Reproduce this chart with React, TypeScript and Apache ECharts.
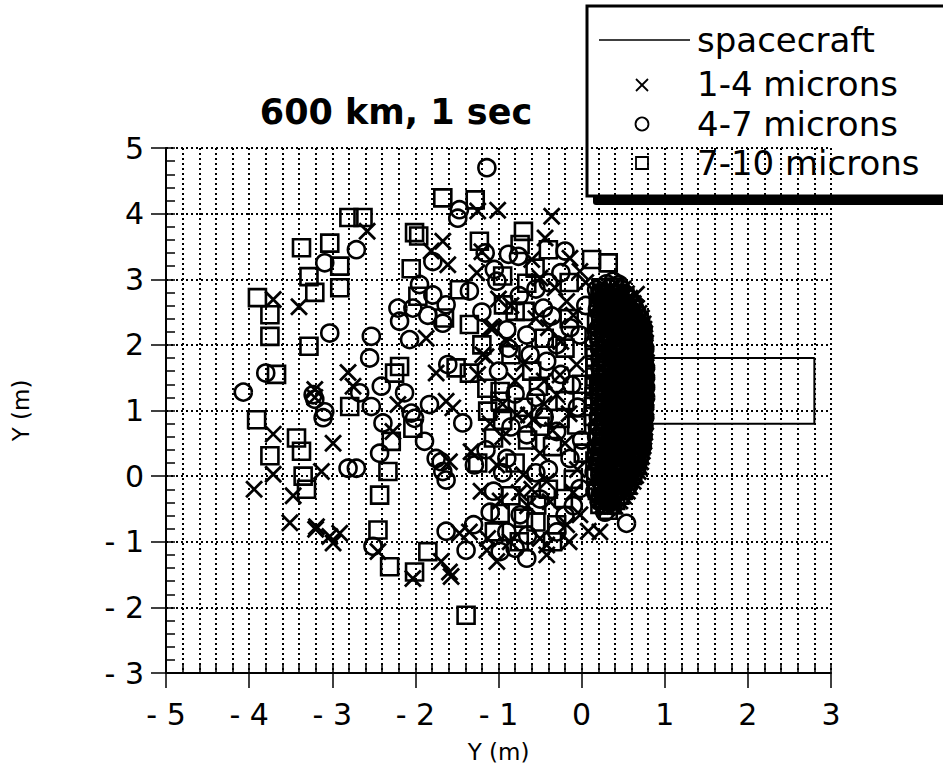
import React, { useEffect, useRef } from 'react';
import * as echarts from 'echarts';

// Axis tick labels
const xTickValues = [-5, -4, -3, -2, -1, 0, 1, 2, 3];
const xTickLabels = ['- 5', '- 4', '- 3', '- 2', '- 1', '0', '1', '2', '3'];
const yTickValues = [-3, -2, -1, 0, 1, 2, 3, 4, 5];
const yTickLabels = ['- 3', '- 2', '- 1', '0', '1', '2', '3', '4', '5'];

// Spacecraft outline
const spacecraftX = [0.8, 2.8, 2.8, 0.8, 0.8];
const spacecraftY = [0.8, 0.8, 1.8, 1.8, 0.8];

// 1-4 microns (x marks)
const micron1to4: number[][] = [
  [-3.71, 2.69], [-3.40, 2.58], [-3.21, 1.20], [-3.21, 1.32], [-3.71, 0.64], [-3.71, 0.03], [-3.94, -0.20], [-3.47, -0.30], [-3.51, -0.71], [-3.20, -0.81],
  [-2.58, 3.73], [-1.25, 4.04], [-1.01, 4.05], [-1.67, 3.58], [-1.81, 3.43], [-1.61, 3.22], [-1.26, 3.10], [-1.20, 3.42], [-1.87, 2.10], [-1.06, 2.26],
  [-1.19, 1.85], [-2.81, 1.58], [-2.75, 1.37], [-1.75, 1.57], [-2.21, 1.09], [-1.63, 1.14], [-1.55, 1.04], [-2.99, 0.50], [-2.27, 0.68], [-3.13, 0.07],
  [-1.59, 0.22], [-3.19, -0.77], [-3.03, -0.92], [-2.99, -1.02], [-2.91, -0.87], [-2.45, -1.15], [-2.03, -1.56], [-1.69, -1.30], [-1.59, -1.46], [-1.57, -1.53],
  [-1.47, -0.87], [-1.14, -1.13], [-0.36, 3.96], [-0.44, 3.63], [-0.14, 3.32], [-0.02, 3.12], [-0.50, 3.02], [-0.32, 2.87], [0.66, 2.77], [-0.18, 2.66],
  [-1.10, 2.26], [-0.40, 2.26], [-0.70, 1.72], [-0.06, 1.70], [-0.26, 1.54], [-0.30, 1.24], [-0.78, 0.93], [-0.64, 0.93], [-1.15, 1.82], [-0.58, 0.86],
  [-1.33, 0.37], [-1.02, 0.17], [-1.21, -0.23], [-0.98, -0.38], [-0.38, -0.39], [-1.35, -0.85], [-1.13, -0.95], [-1.02, -1.30], [-0.86, -1.00], [-0.42, -1.05],
  [-0.18, -0.74], [0.08, -0.84], [-0.70, 0.02], [-0.42, -0.08], [0.22, -0.34], [0.30, -0.49], [-0.02, -0.59], [-0.50, -0.95], [-0.42, -1.20], [0.22, -0.85],
  [-0.90, 2.05], [-0.55, 2.40], [-0.10, 2.45], [-0.80, 1.45], [-0.45, 1.10], [-0.15, 0.95], [-0.95, 0.60], [-0.50, 0.35], [-0.20, 0.50], [-1.10, 0.80],
  [-0.75, -0.25], [-0.05, 0.10], [-1.25, 1.55], [-0.60, -0.20], [0.05, 2.95],
  [-0.85, 2.60], [-0.60, 3.30], [-0.95, 1.10], [-0.35, 0.70], [-0.10, -0.25], [-0.65, -0.45], [-0.25, 2.05], [-1.00, 2.70], [-0.45, 1.45], [-0.15, -1.00],
  // dense cluster near the spacecraft
  [0.50, 2.85], [0.36, 2.85], [0.21, 2.84], [0.58, 2.71], [0.44, 2.70], [0.29, 2.71],
  [0.66, 2.56], [0.51, 2.55], [0.37, 2.56], [0.22, 2.57], [0.72, 2.41], [0.57, 2.40], [0.43, 2.41], [0.28, 2.42],
  [0.75, 2.24], [0.61, 2.25], [0.46, 2.24], [0.31, 2.23], [0.76, 2.10], [0.62, 2.11], [0.47, 2.10], [0.32, 2.09],
  [0.76, 1.96], [0.62, 1.95], [0.47, 1.96], [0.33, 1.97], [0.77, 1.79], [0.63, 1.80], [0.48, 1.79], [0.33, 1.78],
  [0.77, 1.66], [0.63, 1.65], [0.48, 1.66], [0.34, 1.67], [0.77, 1.50], [0.63, 1.51], [0.49, 1.50], [0.34, 1.49],
  [0.77, 1.36], [0.63, 1.35], [0.48, 1.36], [0.33, 1.37], [0.77, 1.19], [0.62, 1.20], [0.48, 1.19], [0.33, 1.18],
  [0.77, 1.05], [0.62, 1.06], [0.47, 1.05], [0.32, 1.04], [0.76, 0.91], [0.61, 0.90], [0.47, 0.91], [0.31, 0.92],
  [0.76, 0.74], [0.61, 0.75], [0.46, 0.74], [0.30, 0.73], [0.75, 0.60], [0.60, 0.61], [0.45, 0.60], [0.29, 0.59],
  [0.74, 0.46], [0.59, 0.45], [0.44, 0.46], [0.28, 0.47], [0.72, 0.30], [0.57, 0.31], [0.42, 0.30], [0.26, 0.29],
  [0.70, 0.14], [0.55, 0.15], [0.40, 0.14], [0.24, 0.13], [0.65, 0.01], [0.50, 0.02], [0.35, 0.01], [0.20, 0.00],
  [0.58, -0.16], [0.43, -0.15], [0.28, -0.16], [0.50, -0.30], [0.35, -0.31], [0.20, -0.30], [0.40, -0.46], [0.25, -0.45],
  [0.54, 2.78], [0.40, 2.78], [0.25, 2.77], [0.62, 2.63], [0.48, 2.63], [0.33, 2.64],
  [0.69, 2.48], [0.55, 2.48], [0.40, 2.49], [0.26, 2.48], [0.74, 2.32], [0.60, 2.33], [0.45, 2.32], [0.30, 2.31],
  [0.76, 2.17], [0.69, 2.18], [0.54, 2.17], [0.39, 2.16], [0.77, 2.03], [0.69, 2.02], [0.55, 2.03], [0.40, 2.04],
  [0.77, 1.87], [0.70, 1.88], [0.55, 1.87], [0.41, 1.86], [0.78, 1.73], [0.70, 1.72], [0.56, 1.73], [0.41, 1.74],
  [0.78, 1.58], [0.70, 1.57], [0.56, 1.58], [0.41, 1.59], [0.78, 1.43], [0.70, 1.44], [0.56, 1.43], [0.41, 1.42],
  [0.78, 1.28], [0.70, 1.27], [0.55, 1.28], [0.40, 1.29], [0.77, 1.12], [0.70, 1.13], [0.55, 1.12], [0.40, 1.11],
  [0.77, 0.98], [0.69, 0.97], [0.54, 0.98], [0.39, 0.99], [0.77, 0.83], [0.68, 0.84], [0.54, 0.83], [0.38, 0.82],
  [0.76, 0.67], [0.68, 0.68], [0.53, 0.67], [0.37, 0.66], [0.75, 0.53], [0.67, 0.52], [0.52, 0.53], [0.36, 0.54],
  [0.73, 0.38], [0.65, 0.37], [0.50, 0.38], [0.34, 0.39], [0.71, 0.22], [0.63, 0.23], [0.48, 0.22], [0.32, 0.21],
  [0.68, 0.07], [0.58, 0.08], [0.43, 0.07], [0.27, 0.06], [0.62, -0.08], [0.50, -0.07], [0.35, -0.08],
  [0.55, -0.23], [0.42, -0.22], [0.27, -0.23], [0.46, -0.38], [0.32, -0.37]
];

// 4-7 microns (circles)
const micron4to7: number[][] = [
  [-3.80, 1.57], [-4.07, 1.28], [-3.21, 1.17], [-3.11, 0.89], [-1.14, 4.70], [-1.47, 4.06], [-1.49, 3.93], [-2.71, 3.45], [-1.16, 3.40], [-1.79, 3.27],
  [-3.09, 3.25], [-1.95, 2.92], [-1.35, 2.82], [-1.79, 2.76], [-1.02, 2.97], [-2.21, 2.56], [-2.19, 2.36], [-2.03, 2.56], [-1.63, 2.61], [-1.85, 2.45],
  [-2.07, 2.08], [-3.03, 2.18], [-2.53, 2.13], [-2.55, 1.80], [-1.61, 1.70], [-2.67, 1.27], [-2.41, 1.37], [-2.13, 1.27], [-3.23, 1.24], [-3.09, 0.98],
  [-2.53, 1.06], [-2.05, 0.96], [-2.39, 0.81], [-1.83, 1.09], [-1.43, 0.81], [-1.89, 0.53], [-2.43, 0.35], [-2.81, 0.12], [-2.71, 0.12], [-1.75, 0.27],
  [-1.67, 0.07], [-1.63, -0.06], [-2.51, -1.07], [-1.63, -0.84], [-1.39, -1.13], [-1.30, -0.74], [-0.88, 3.38], [-0.20, 3.43], [0.38, 2.97], [-0.88, 1.95],
  [-0.14, 2.26], [-0.66, 0.63], [-0.30, 0.68], [0.54, -0.72], [-0.76, 3.35], [-1.67, 2.33], [-2.01, 0.88], [-1.69, 0.22], [-1.29, 0.17], [-0.14, 0.27],
  [-1.06, -0.23], [-0.66, -1.25], [-0.98, -1.15], [-0.80, -1.10], [-0.46, 2.56], [-0.36, 2.44], [-0.90, 2.23], [-0.66, 2.15], [-0.02, 2.15], [-0.62, 1.85],
  [-0.42, 1.75], [-0.12, 1.39], [-0.90, 0.27], [-0.02, -0.19], [-0.30, -0.85], [-0.74, -0.59], [-0.90, -0.85],
  [-0.75, 2.75], [-0.30, 2.00], [-1.00, 1.60], [-0.55, 1.20], [-0.85, 0.75], [-0.40, 0.10], [-0.10, -0.45], [-1.15, 0.40], [-0.65, -0.90], [-0.05, 1.05],
  [-0.25, 3.10], [0.05, 2.60], [-1.20, 2.50], [-0.50, -0.35], [0.00, 0.55],
  [-1.05, 3.15], [-0.55, 2.85], [-0.80, 1.25], [-0.25, 1.55], [-0.45, 0.90], [-1.10, -0.55], [-0.55, 0.05], [-0.20, -0.60], [-0.95, 0.05], [-0.40, 2.95],
  // dense cluster near the spacecraft
  [0.45, 2.92], [0.30, 2.93], [0.53, 2.77], [0.38, 2.78], [0.23, 2.77], [0.61, 2.62], [0.46, 2.61], [0.31, 2.63],
  [0.67, 2.47], [0.52, 2.48], [0.37, 2.47], [0.22, 2.46], [0.70, 2.32], [0.55, 2.31], [0.40, 2.33], [0.25, 2.32],
  [0.71, 2.17], [0.56, 2.18], [0.41, 2.17], [0.26, 2.16], [0.72, 2.02], [0.57, 2.01], [0.42, 2.03], [0.27, 2.02],
  [0.72, 1.87], [0.57, 1.88], [0.42, 1.87], [0.27, 1.86], [0.72, 1.72], [0.58, 1.71], [0.43, 1.73], [0.28, 1.72],
  [0.73, 1.57], [0.58, 1.58], [0.43, 1.57], [0.28, 1.56], [0.72, 1.42], [0.58, 1.41], [0.43, 1.43], [0.27, 1.42],
  [0.72, 1.27], [0.57, 1.28], [0.42, 1.27], [0.27, 1.26], [0.72, 1.12], [0.57, 1.11], [0.42, 1.13], [0.26, 1.12],
  [0.71, 0.97], [0.56, 0.98], [0.41, 0.97], [0.26, 0.96], [0.71, 0.82], [0.56, 0.81], [0.41, 0.83], [0.25, 0.82],
  [0.70, 0.67], [0.55, 0.68], [0.40, 0.67], [0.24, 0.66], [0.69, 0.52], [0.54, 0.51], [0.39, 0.53], [0.23, 0.52],
  [0.67, 0.37], [0.52, 0.38], [0.37, 0.37], [0.21, 0.36], [0.65, 0.22], [0.50, 0.21], [0.35, 0.23], [0.19, 0.22],
  [0.60, 0.07], [0.45, 0.08], [0.30, 0.07], [0.15, 0.06], [0.53, -0.09], [0.38, -0.08], [0.23, -0.09],
  [0.46, -0.23], [0.31, -0.24], [0.16, -0.23], [0.36, -0.39], [0.21, -0.38], [0.28, -0.55],
  [0.47, 2.85], [0.33, 2.86], [0.18, 2.84], [0.56, 2.70], [0.41, 2.71], [0.26, 2.70],
  [0.64, 2.55], [0.49, 2.56], [0.34, 2.55], [0.19, 2.54], [0.70, 2.40], [0.62, 2.41], [0.47, 2.40], [0.32, 2.39],
  [0.74, 2.25], [0.65, 2.26], [0.50, 2.25], [0.35, 2.24], [0.20, 2.25], [0.75, 2.10], [0.66, 2.11], [0.51, 2.10], [0.36, 2.09], [0.21, 2.10],
  [0.76, 1.95], [0.67, 1.96], [0.52, 1.95], [0.37, 1.94], [0.22, 1.95], [0.76, 1.80], [0.67, 1.81], [0.52, 1.80], [0.37, 1.79], [0.22, 1.80],
  [0.77, 1.65], [0.67, 1.66], [0.52, 1.65], [0.37, 1.64], [0.22, 1.65], [0.77, 1.50], [0.68, 1.51], [0.53, 1.50], [0.38, 1.49], [0.22, 1.50],
  [0.77, 1.35], [0.67, 1.36], [0.52, 1.35], [0.37, 1.34], [0.21, 1.35], [0.77, 1.20], [0.67, 1.21], [0.52, 1.20], [0.37, 1.19], [0.21, 1.20],
  [0.76, 1.05], [0.66, 1.06], [0.51, 1.05], [0.36, 1.04], [0.21, 1.05], [0.76, 0.90], [0.66, 0.91], [0.51, 0.90], [0.36, 0.89], [0.20, 0.90],
  [0.75, 0.75], [0.65, 0.76], [0.50, 0.75], [0.35, 0.74], [0.19, 0.75], [0.74, 0.60], [0.64, 0.61], [0.49, 0.60], [0.34, 0.59], [0.18, 0.60],
  [0.73, 0.45], [0.62, 0.46], [0.47, 0.45], [0.32, 0.44], [0.70, 0.30], [0.60, 0.31], [0.45, 0.30], [0.30, 0.29],
  [0.67, 0.15], [0.57, 0.16], [0.42, 0.15], [0.27, 0.14], [0.62, 0.00], [0.52, 0.01], [0.37, 0.00], [0.22, -0.01],
  [0.56, -0.15], [0.45, -0.14], [0.30, -0.15], [0.48, -0.30], [0.37, -0.29], [0.22, -0.30], [0.38, -0.45], [0.28, -0.44]
];

// 7-10 microns (squares)
const micron7to10: number[][] = [
  [-3.37, 3.48], [-3.28, 3.04], [-3.21, 2.80], [-3.90, 2.72], [-3.75, 2.46], [-3.75, 2.13], [-3.28, 1.98], [-3.67, 1.55], [-3.91, 0.86], [-3.43, 0.58],
  [-3.37, 0.38], [-3.75, 0.31], [-3.35, 0.00], [-3.31, -0.20], [-1.67, 4.24], [-1.28, 4.21], [-2.80, 3.94], [-2.63, 3.94], [-3.03, 3.55], [-2.01, 3.71],
  [-1.96, 3.66], [-1.23, 3.58], [-2.91, 3.20], [-2.05, 3.16], [-2.91, 2.87], [-1.47, 2.84], [-1.97, 2.74], [-1.65, 2.41], [-1.35, 2.31], [-2.19, 1.67],
  [-2.25, 1.57], [-1.51, 1.65], [-1.35, 1.57], [-2.79, 1.06], [-2.03, 0.73], [-2.29, 0.53], [-2.33, 0.07], [-2.43, -0.29], [-2.45, -0.82], [-2.31, -1.38],
  [-1.85, -1.15], [-2.01, -1.46], [-1.39, -2.12], [-0.70, 3.73], [-0.74, 3.53], [0.12, 3.30], [0.32, 3.25], [-0.66, 2.94], [-0.94, 2.61], [-0.80, 2.51],
  [-0.68, 2.51], [-0.52, 1.37], [-0.98, 1.29], [-0.50, 0.76], [-0.26, 0.88], [-0.06, 0.78], [-0.98, 1.14], [-1.13, 0.99], [-0.98, -0.57], [-0.70, -0.64],
  [-0.30, -0.74], [-0.54, -0.44], [-0.22, -0.34], [-0.56, 3.17], [-1.14, 1.34], [-1.06, 0.58],
  [-0.45, 2.10], [-0.85, 1.85], [-0.20, 1.95], [-0.70, 1.05], [-0.35, 0.45], [-0.80, 0.20], [-0.10, -0.05], [-0.55, -0.70], [-1.20, 2.00], [-0.15, 2.95],
  [0.00, 1.40], [-0.35, -1.00], [-1.05, -0.85], [-0.65, 0.55], [0.02, 0.35],
  [-0.95, 3.05], [-0.40, 3.45], [-0.60, 1.60], [-0.20, 1.15], [-0.95, 0.85], [-0.40, -0.20], [-0.85, -0.30], [-0.15, 2.40], [-1.25, 0.20], [-0.75, -1.00],
  // dense cluster near the spacecraft
  [0.42, 2.78], [0.27, 2.79], [0.50, 2.63], [0.35, 2.64], [0.20, 2.63], [0.57, 2.49], [0.42, 2.48], [0.28, 2.49],
  [0.63, 2.33], [0.48, 2.34], [0.33, 2.33], [0.18, 2.32], [0.66, 2.18], [0.51, 2.19], [0.36, 2.18], [0.21, 2.17],
  [0.67, 2.03], [0.52, 2.02], [0.37, 2.04], [0.22, 2.03], [0.67, 1.88], [0.52, 1.89], [0.38, 1.88], [0.23, 1.87],
  [0.68, 1.73], [0.53, 1.72], [0.38, 1.74], [0.23, 1.73], [0.68, 1.58], [0.54, 1.59], [0.39, 1.58], [0.24, 1.57],
  [0.68, 1.43], [0.53, 1.42], [0.39, 1.44], [0.24, 1.43], [0.68, 1.28], [0.53, 1.29], [0.38, 1.28], [0.23, 1.27],
  [0.68, 1.13], [0.53, 1.12], [0.38, 1.14], [0.22, 1.13], [0.68, 0.98], [0.53, 0.99], [0.37, 0.98], [0.22, 0.97],
  [0.67, 0.83], [0.52, 0.82], [0.37, 0.84], [0.21, 0.83], [0.67, 0.68], [0.51, 0.69], [0.36, 0.68], [0.20, 0.67],
  [0.66, 0.53], [0.51, 0.52], [0.35, 0.54], [0.19, 0.53], [0.65, 0.38], [0.50, 0.39], [0.34, 0.38], [0.18, 0.37],
  [0.63, 0.23], [0.48, 0.22], [0.32, 0.24], [0.16, 0.23], [0.61, 0.07], [0.46, 0.08], [0.30, 0.07],
  [0.56, -0.06], [0.41, -0.07], [0.26, -0.06], [0.49, -0.22], [0.34, -0.21], [0.19, -0.22], [0.41, -0.37], [0.26, -0.36], [0.32, -0.52],
  [0.40, 2.88], [0.24, 2.87], [0.52, 2.72], [0.37, 2.73], [0.22, 2.72], [0.60, 2.56], [0.45, 2.57], [0.30, 2.56],
  [0.66, 2.41], [0.53, 2.42], [0.38, 2.41], [0.23, 2.40], [0.71, 2.26], [0.58, 2.27], [0.43, 2.26], [0.28, 2.25],
  [0.73, 2.11], [0.60, 2.12], [0.45, 2.11], [0.29, 2.10], [0.15, 2.11], [0.74, 1.96], [0.60, 1.97], [0.45, 1.96], [0.30, 1.95], [0.15, 1.96],
  [0.74, 1.81], [0.61, 1.82], [0.46, 1.81], [0.30, 1.80], [0.16, 1.81], [0.75, 1.66], [0.61, 1.67], [0.46, 1.66], [0.31, 1.65], [0.16, 1.66],
  [0.75, 1.51], [0.61, 1.52], [0.46, 1.51], [0.31, 1.50], [0.16, 1.51], [0.75, 1.36], [0.61, 1.37], [0.46, 1.36], [0.30, 1.35], [0.15, 1.36],
  [0.75, 1.21], [0.60, 1.22], [0.45, 1.21], [0.30, 1.20], [0.15, 1.21], [0.74, 1.06], [0.60, 1.07], [0.45, 1.06], [0.29, 1.05], [0.14, 1.06],
  [0.74, 0.91], [0.59, 0.92], [0.44, 0.91], [0.29, 0.90], [0.14, 0.91], [0.73, 0.76], [0.59, 0.77], [0.44, 0.76], [0.28, 0.75],
  [0.72, 0.61], [0.58, 0.62], [0.43, 0.61], [0.27, 0.60], [0.71, 0.46], [0.56, 0.47], [0.41, 0.46], [0.26, 0.45],
  [0.69, 0.31], [0.54, 0.32], [0.39, 0.31], [0.24, 0.30], [0.66, 0.16], [0.52, 0.17], [0.37, 0.16], [0.22, 0.15],
  [0.61, 0.01], [0.47, 0.02], [0.32, 0.01], [0.17, 0.00], [0.54, -0.14], [0.40, -0.13], [0.25, -0.14],
  [0.46, -0.29], [0.31, -0.28], [0.36, -0.44], [0.22, -0.43]
];

const FONT = "'DejaVu Sans', 'Liberation Sans', sans-serif";
const BLACK = '#000';
const X_MARK = 'path://M0 0L10 10M10 0L0 10';

export default function App() {
  const ref = useRef<HTMLDivElement>(null);

  useEffect(() => {
    if (!ref.current) return;
    const chart = echarts.init(ref.current, undefined, { renderer: 'svg' });

    const xLabel = (v: number) => {
      const i = xTickValues.findIndex((t) => Math.abs(t - v) < 1e-6);
      return i >= 0 ? xTickLabels[i] : '';
    };
    const yLabel = (v: number) => {
      const i = yTickValues.findIndex((t) => Math.abs(t - v) < 1e-6);
      return i >= 0 ? yTickLabels[i] : '';
    };

    const dotted = { color: BLACK, width: 2, type: [2, 3] as number[] };
    const hollow = { color: 'rgba(0,0,0,0)', borderColor: BLACK, borderWidth: 2.6, opacity: 1 };

    const option: any = {
      animation: false,
      backgroundColor: '#fff',
      grid: { left: 166, top: 148, right: 112, bottom: 100 },
      xAxis: [
        {
          type: 'value', min: -5, max: 3, interval: 1, position: 'bottom',
          axisLine: { show: true, onZero: false, lineStyle: { color: BLACK, width: 2 } },
          axisTick: { show: true, inside: false, length: 15, lineStyle: { color: BLACK, width: 1.5 } },
          axisLabel: { show: true, margin: 26, color: BLACK, fontSize: 30, fontFamily: FONT, formatter: xLabel },
          splitLine: { show: false },
          name: 'Y (m)', nameLocation: 'middle', nameGap: 67,
          nameTextStyle: { fontSize: 23, fontFamily: FONT, color: BLACK },
        },
        {
          type: 'value', min: -5, max: 3, interval: 0.2, position: 'bottom',
          axisLine: { show: false, onZero: false },
          axisTick: { show: true, inside: true, length: 9, lineStyle: { color: BLACK, width: 1.5 } },
          axisLabel: { show: false },
          splitLine: { show: true, lineStyle: dotted },
        },
      ],
      yAxis: [
        {
          type: 'value', min: -3, max: 5, interval: 1, position: 'left',
          axisLine: { show: true, onZero: false, lineStyle: { color: BLACK, width: 2 } },
          axisTick: { show: true, inside: false, length: 15, lineStyle: { color: BLACK, width: 1.5 } },
          axisLabel: { show: true, margin: 22, color: BLACK, fontSize: 30, fontFamily: FONT, formatter: yLabel },
          splitLine: { show: true, lineStyle: dotted },
          name: 'Y (m)', nameLocation: 'middle', nameGap: 134,
          nameTextStyle: { fontSize: 23, fontFamily: FONT, color: BLACK },
        },
        {
          type: 'value', min: -3, max: 5, interval: 0.2, position: 'left',
          axisLine: { show: false, onZero: false },
          axisTick: { show: true, inside: true, length: 9, lineStyle: { color: BLACK, width: 1.5 } },
          axisLabel: { show: false },
          splitLine: { show: false },
        },
      ],
      series: [
        {
          name: 'spacecraft', type: 'line', xAxisIndex: 0, yAxisIndex: 0,
          data: spacecraftX.map((x, i) => [x, spacecraftY[i]]),
          symbol: 'none', lineStyle: { color: BLACK, width: 2 }, silent: true, z: 2,
        },
        {
          name: '1-4 microns', type: 'scatter', xAxisIndex: 0, yAxisIndex: 0,
          data: micron1to4, symbol: X_MARK, symbolSize: 16,
          itemStyle: { ...hollow, borderWidth: 2.8 }, silent: true, z: 3,
        },
        {
          name: '4-7 microns', type: 'scatter', xAxisIndex: 0, yAxisIndex: 0,
          data: micron4to7, symbol: 'circle', symbolSize: 17,
          itemStyle: hollow, silent: true, z: 3,
        },
        {
          name: '7-10 microns', type: 'scatter', xAxisIndex: 0, yAxisIndex: 0,
          data: micron7to10, symbol: 'rect', symbolSize: 17,
          itemStyle: hollow, silent: true, z: 3,
        },
      ],
      graphic: [
        {
          type: 'text', x: 396, y: 112, z: 50,
          style: {
            text: '600 km, 1 sec', fill: BLACK, fontSize: 35, fontWeight: 'bold', fontFamily: FONT,
            align: 'center', verticalAlign: 'middle', textAlign: 'center', textVerticalAlign: 'middle',
          },
        },
        {
          type: 'group', z: 100,
          children: [
            { type: 'rect', shape: { x: 593, y: 190, width: 400, height: 15, r: 3 }, style: { fill: BLACK } },
            { type: 'rect', shape: { x: 587, y: 6, width: 420, height: 190 }, style: { fill: '#fff', stroke: BLACK, lineWidth: 3 } },
            { type: 'line', shape: { x1: 599, y1: 40, x2: 690, y2: 40 }, style: { stroke: BLACK, lineWidth: 1.5 } },
            { type: 'line', shape: { x1: 636, y1: 79, x2: 648, y2: 91 }, style: { stroke: BLACK, lineWidth: 1.8 } },
            { type: 'line', shape: { x1: 648, y1: 79, x2: 636, y2: 91 }, style: { stroke: BLACK, lineWidth: 1.8 } },
            { type: 'circle', shape: { cx: 642, cy: 124, r: 6.5 }, style: { fill: 'none', stroke: BLACK, lineWidth: 1.8 } },
            { type: 'rect', shape: { x: 636, y: 157, width: 12, height: 12 }, style: { fill: 'none', stroke: BLACK, lineWidth: 1.8 } },
            ...[
              ['spacecraft', 40],
              ['1-4 microns', 84],
              ['4-7 microns', 124],
              ['7-10 microns', 163],
            ].map(([t, y]) => ({
              type: 'text', x: 697, y: y as number,
              style: {
                text: t as string, fill: BLACK, fontSize: 34, fontFamily: FONT,
                align: 'left', verticalAlign: 'middle', textAlign: 'left', textVerticalAlign: 'middle',
              },
            })),
          ],
        },
      ],
    };

    chart.setOption(option);
    return () => chart.dispose();
  }, []);

  return (
    <div
      ref={ref}
      style={{ position: 'absolute', left: 0, top: 0, width: 943, height: 773, background: '#fff' }}
    />
  );
}
